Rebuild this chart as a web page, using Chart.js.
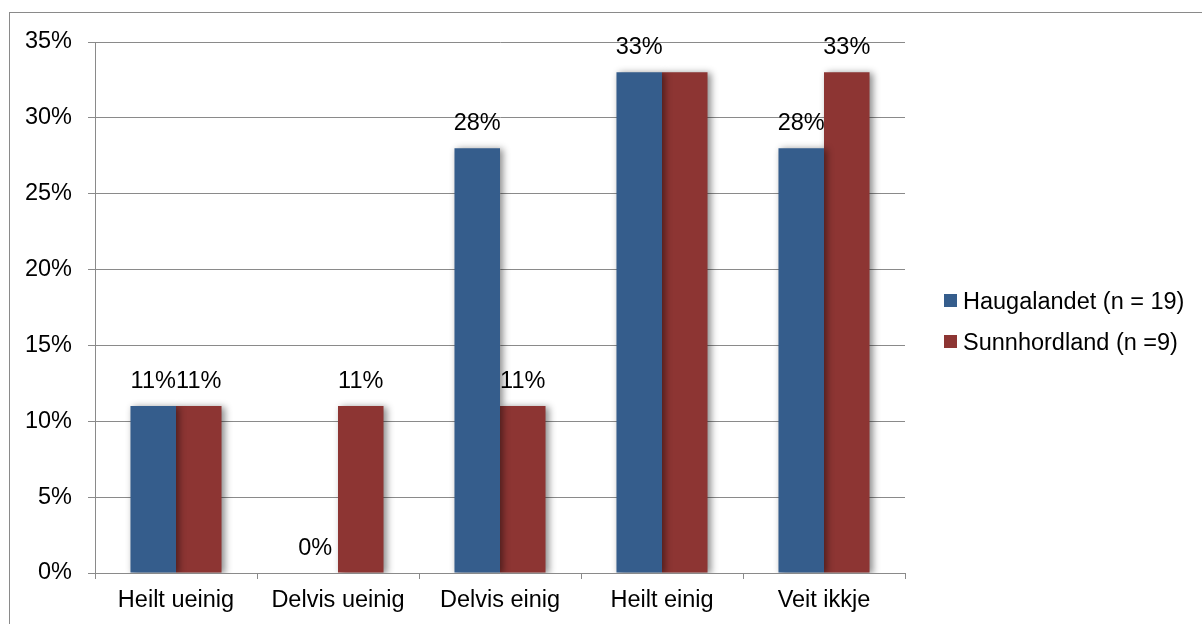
<!DOCTYPE html>
<html>
<head>
<meta charset="utf-8">
<script src="https://cdn.jsdelivr.net/npm/chart.js@4/dist/chart.umd.min.js"></script>
<style>
  html, body { margin: 0; padding: 0; background: #ffffff; }
  canvas { display: block; }
</style>
</head>
<body>
<canvas id="c" width="1202" height="624"></canvas>
<script>
// Answer categories along the x axis
const categories = ['Heilt ueinig', 'Delvis ueinig', 'Delvis einig', 'Heilt einig', 'Veit ikkje'];

// Share of respondents (%) per region
const haugalandet = [11, 0, 28, 33, 28];
const sunnhordland = [11, 11, 11, 33, 33];

// Series names
const seriesNames = ['Haugalandet (n = 19)', 'Sunnhordland (n =9)'];

// Which value labels are printed (overlapping duplicates are left out)
const showHaugalandetLabels = [true, true, true, true, true];
const showSunnhordlandLabels = [true, true, true, false, true];

// Y axis range and step (%)
const yMax = 35;
const yStep = 5;

const FONT = "'Liberation Sans', Arial, sans-serif";
const FONT_SIZE = 23.5;
const GRID = '#8a8a8a';

// Frame, bar shadows, value labels and the legend
const decorations = {
  id: 'decorations',
  beforeDraw(chart) {
    const ctx = chart.ctx;
    ctx.save();
    ctx.fillStyle = '#ffffff';
    ctx.fillRect(0, 0, chart.width, chart.height);
    ctx.strokeStyle = GRID;
    ctx.lineWidth = 1;
    ctx.strokeRect(9.5, 12.5, chart.width + 20, chart.height + 20);
    ctx.restore();
  },
  beforeDatasetsDraw(chart) {
    const ctx = chart.ctx;
    ctx.save();
    ctx.shadowColor = 'rgba(0,0,0,0.45)';
    ctx.shadowBlur = 7;
    ctx.shadowOffsetX = 3;
    ctx.shadowOffsetY = 1;
  },
  afterDatasetsDraw(chart) {
    const ctx = chart.ctx;
    ctx.restore();
    const masks = [showHaugalandetLabels, showSunnhordlandLabels];
    ctx.save();
    ctx.font = FONT_SIZE + 'px ' + FONT;
    ctx.fillStyle = '#000000';
    ctx.textAlign = 'center';
    ctx.textBaseline = 'alphabetic';
    chart.data.datasets.forEach((ds, di) => {
      const meta = chart.getDatasetMeta(di);
      meta.data.forEach((bar, i) => {
        if (!masks[di][i]) return;
        const v = ds.data[i];
        ctx.fillText(v + '%', bar.x, bar.y - 18);
      });
    });
    ctx.restore();
  },
  afterDraw(chart) {
    const ctx = chart.ctx;
    const area = chart.chartArea;
    const x0 = area.right + 39;
    const rowTop = [294, 335];
    ctx.save();
    ctx.font = FONT_SIZE + 'px ' + FONT;
    ctx.textAlign = 'left';
    ctx.textBaseline = 'alphabetic';
    chart.data.datasets.forEach((ds, di) => {
      ctx.fillStyle = ds.backgroundColor;
      ctx.fillRect(x0, rowTop[di], 13, 13);
      ctx.fillStyle = '#000000';
      ctx.fillText(ds.label, x0 + 19, rowTop[di] + 15);
    });
    ctx.restore();
  }
};

new Chart(document.getElementById('c'), {
  type: 'bar',
  data: {
    labels: categories,
    datasets: [
      {
        label: seriesNames[0],
        data: haugalandet,
        backgroundColor: '#355D8C',
        borderWidth: 0,
        categoryPercentage: 0.562,
        barPercentage: 1
      },
      {
        label: seriesNames[1],
        data: sunnhordland,
        backgroundColor: '#8D3533',
        borderWidth: 0,
        categoryPercentage: 0.562,
        barPercentage: 1
      }
    ]
  },
  options: {
    responsive: false,
    animation: false,
    devicePixelRatio: 1,
    layout: { padding: { left: 0, right: 297, top: 42, bottom: 0 } },
    plugins: {
      legend: { display: false },
      tooltip: { enabled: false },
      title: { display: false }
    },
    scales: {
      x: {
        afterFit(s) { s.height = 51; },
        grid: {
          offset: true,
          drawOnChartArea: false,
          drawTicks: true,
          tickLength: 6,
          color: GRID
        },
        border: { display: true, color: GRID, width: 1 },
        ticks: {
          font: { family: FONT, size: FONT_SIZE },
          color: '#000000',
          padding: 7,
          maxRotation: 0,
          autoSkip: false
        }
      },
      y: {
        min: 0,
        max: yMax,
        afterFit(s) { s.width = 95; },
        grid: {
          drawOnChartArea: true,
          drawTicks: true,
          tickLength: 7,
          color: GRID
        },
        border: { display: true, color: GRID, width: 1 },
        ticks: {
          stepSize: yStep,
          font: { family: FONT, size: FONT_SIZE },
          color: '#000000',
          padding: 16,
          callback: v => v + '%'
        }
      }
    }
  },
  plugins: [decorations]
});
</script>
</body>
</html>
